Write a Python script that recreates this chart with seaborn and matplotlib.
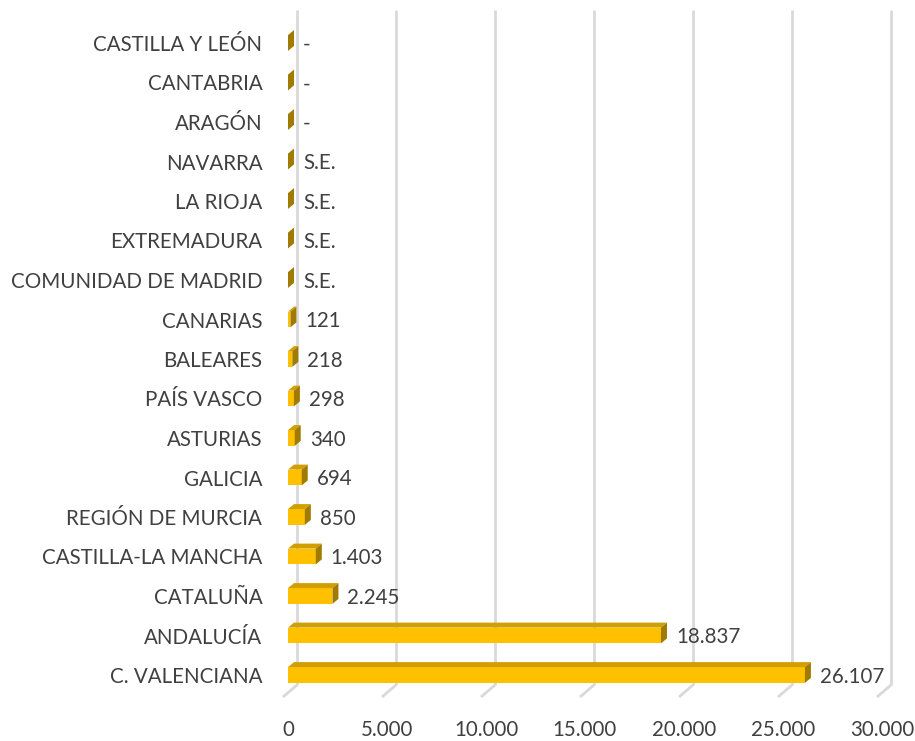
import matplotlib
matplotlib.use("Agg")
import matplotlib.pyplot as plt
from matplotlib.patches import Polygon
from matplotlib.ticker import FuncFormatter
import seaborn as sns
import pandas as pd

regions = ["CASTILLA Y LEÓN", "CANTABRIA", "ARAGÓN", "NAVARRA", "LA RIOJA",
           "EXTREMADURA", "COMUNIDAD DE MADRID", "CANARIAS", "BALEARES",
           "PAÍS VASCO", "ASTURIAS", "GALICIA", "REGIÓN DE MURCIA",
           "CASTILLA-LA MANCHA", "CATALUÑA", "ANDALUCÍA", "C. VALENCIANA"]
values = [0, 0, 0, 0, 0, 0, 0, 121, 218, 298, 340, 694, 850, 1403, 2245, 18837, 26107]
labels = ["-", "-", "-", "S.E.", "S.E.", "S.E.", "S.E.", "121", "218", "298",
          "340", "694", "850", "1.403", "2.245", "18.837", "26.107"]
xticks = [0, 5000, 10000, 15000, 20000, 25000, 30000]

df = pd.DataFrame({"region": regions, "value": values})

sns.set_theme(style="white")
plt.rcParams["font.family"] = ["Lato", "DejaVu Sans"]

W, H, DPI = 915, 741, 100
fig = plt.figure(figsize=(W / DPI, H / DPI), dpi=DPI)
ax_l, ax_r, ax_t, ax_b = 288, 882, 10, 697
ax = fig.add_axes([ax_l / W, (H - ax_b) / H, (ax_r - ax_l) / W, (ax_b - ax_t) / H])

front = "#FFC000"
top_c = "#D29F00"
side_c = "#A17A00"
text_c = "#404040"
grid_c = "#D9D9D9"
fs = 14.8

sns.barplot(data=df, y="region", x="value", orient="h", color=front,
            width=0.4, saturation=1, ax=ax, zorder=3, linewidth=0)

xmax = 30000
ax.set_xlim(0, xmax)
ymin_c = (ax_t - 43) / 39.5
ymax_c = (ax_b - 43) / 39.5
ax.set_ylim(ymax_c, ymin_c)

# pixel -> data scales
sx = xmax / (ax_r - ax_l)
sy = (ymax_c - ymin_c) / (ax_b - ax_t)

# 3D bar faces
bdx, bdy = 6 * sx, 5 * sy
for p in ax.patches:
    x0 = p.get_x()
    w = p.get_width()
    y_top = p.get_y()
    y_bot = p.get_y() + p.get_height()
    x1 = x0 + w
    if w > 0:
        topface = Polygon([(x0, y_top), (x1, y_top), (x1 + bdx, y_top - bdy),
                           (x0 + bdx, y_top - bdy)], closed=True,
                          facecolor=top_c, edgecolor="none", zorder=4)
        ax.add_patch(topface)
    sideface = Polygon([(x1, y_bot), (x1, y_top), (x1 + bdx, y_top - bdy),
                        (x1 + bdx, y_bot - bdy)], closed=True,
                       facecolor=side_c, edgecolor="none", zorder=4)
    ax.add_patch(sideface)

# back wall gridlines and floor lines
gdx, gdy = 9 * sx, 12 * sy
fdx = -5 * sx
for t in xticks:
    ax.plot([t + gdx, t + gdx], [ymax_c - gdy, ymin_c], color=grid_c, lw=2,
            zorder=1, clip_on=False, solid_capstyle="butt")
    ax.plot([t + fdx, t + gdx], [ymax_c, ymax_c - gdy], color=grid_c, lw=2,
            zorder=1, clip_on=False, solid_capstyle="butt")

# value labels
for i, (v, lab) in enumerate(zip(values, labels)):
    ax.text(v + 15 * sx, i + 0.05, lab, va="center", ha="left",
            fontsize=fs, color=text_c, zorder=5)

ax.set_xticks(xticks)
ax.xaxis.set_major_formatter(FuncFormatter(lambda v, _: f"{int(v):,}".replace(",", ".")))
ax.tick_params(axis="x", length=0, pad=16.5, labelsize=fs, labelcolor=text_c)
ax.tick_params(axis="y", length=0, pad=18.5, labelsize=fs, labelcolor=text_c)
ax.set_xlabel("")
ax.set_ylabel("")
for s in ax.spines.values():
    s.set_visible(False)
ax.grid(False)

fig.savefig("out.png", dpi=DPI)
